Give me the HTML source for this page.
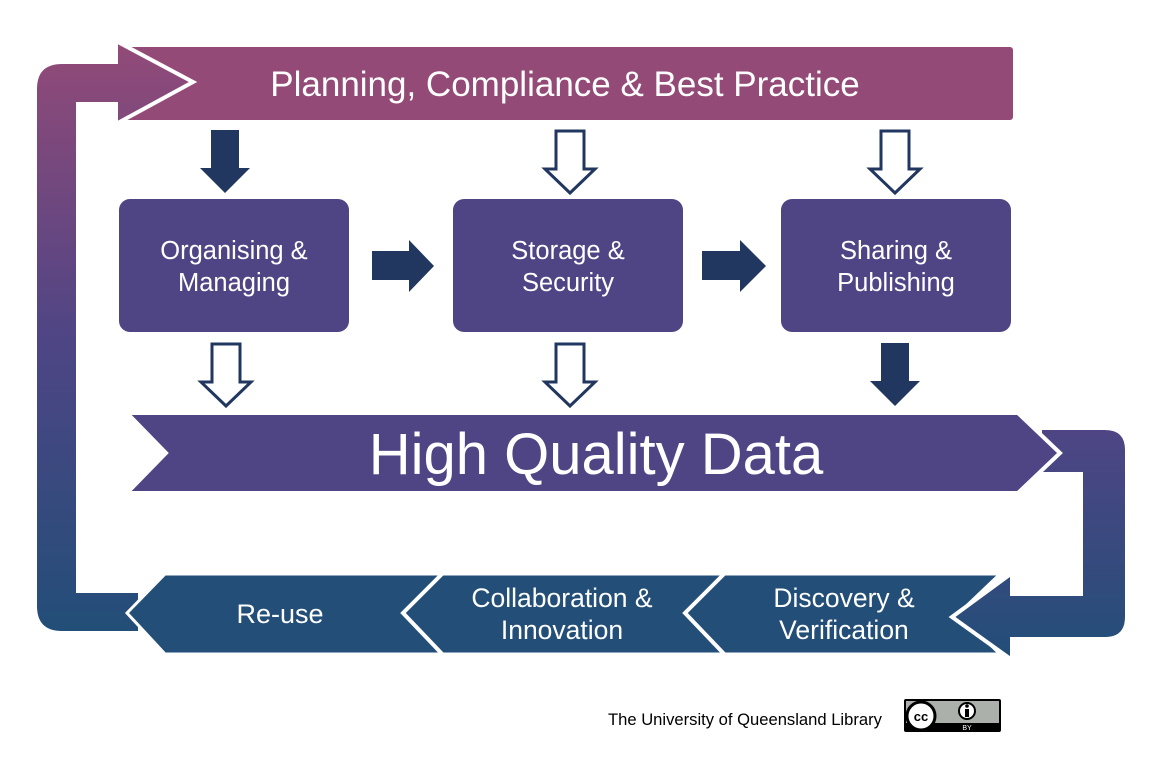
<!DOCTYPE html>
<html><head><meta charset="utf-8"><style>
html,body{margin:0;padding:0;background:#fff;width:1163px;height:769px;overflow:hidden}
svg{display:block}
text{font-family:"Liberation Sans",sans-serif;fill:#fff}
</style></head><body>
<svg width="1163" height="769" viewBox="0 0 1163 769" xmlns="http://www.w3.org/2000/svg">
<defs>
<linearGradient id="gl" x1="0" y1="41" x2="0" y2="633" gradientUnits="userSpaceOnUse">
<stop offset="0" stop-color="#934a78"/><stop offset="0.5" stop-color="#4f4585"/><stop offset="1" stop-color="#224e78"/></linearGradient>
<linearGradient id="gr" x1="0" y1="428" x2="0" y2="660" gradientUnits="userSpaceOnUse">
<stop offset="0" stop-color="#4f4585"/><stop offset="1" stop-color="#224e78"/></linearGradient>
</defs>
<rect x="125" y="47" width="888" height="73" rx="3" fill="#944a77"/>
<path d="M193,82 L116,124 L116,104 L78,104 L78,591 L140,591 L140,633 L62,633 Q35,633 35,606 L35,89 Q35,62 62,62 L116,62 L116,41 Z" fill="url(#gl)" stroke="#fff" stroke-width="4" stroke-linejoin="miter"/>
<text x="565" y="96" font-size="35" text-anchor="middle">Planning, Compliance &amp; Best Practice</text>
<path d="M127,613 L165,574 L1000,574 L958,614 L1000,654 L165,654 Z" fill="#224e78" stroke="#fff" stroke-width="3"/>
<polyline points="445,571 403,613 445,657" fill="none" stroke="#fff" stroke-width="4"/>
<polyline points="727,571 685,613 727,657" fill="none" stroke="#fff" stroke-width="4"/>
<text x="280" y="623" font-size="27" text-anchor="middle">Re-use</text>
<text x="562" y="607" font-size="26.5" text-anchor="middle">Collaboration &amp;</text>
<text x="562" y="639" font-size="26.5" text-anchor="middle">Innovation</text>
<text x="844" y="607" font-size="26.5" text-anchor="middle">Discovery &amp;</text>
<text x="844" y="639" font-size="26.5" text-anchor="middle">Verification</text>
<path d="M1040,428 L1105,428 Q1127,428 1127,450 L1127,617 Q1127,639 1105,639 L1012,639 L1012,660 L952,617 L1012,573 L1012,594 L1081,594 L1081,474 L1040,474 Z" fill="url(#gr)" stroke="#fff" stroke-width="4"/>
<path d="M127,413 L1018,413 L1060,453 L1018,493 L127,493 L166,453 Z" fill="#4f4585" stroke="#fff" stroke-width="4"/>
<text x="596" y="474" font-size="58" text-anchor="middle">High Quality Data</text>
<rect x="119" y="199" width="230" height="133" rx="11" fill="#4f4585"/>
<rect x="453" y="199" width="230" height="133" rx="11" fill="#4f4585"/>
<rect x="781" y="199" width="230" height="133" rx="11" fill="#4f4585"/>
<text x="234" y="259" font-size="25.5" text-anchor="middle">Organising &amp;</text>
<text x="234" y="291" font-size="25.5" text-anchor="middle">Managing</text>
<text x="568" y="259" font-size="25.5" text-anchor="middle">Storage &amp;</text>
<text x="568" y="291" font-size="25.5" text-anchor="middle">Security</text>
<text x="896" y="259" font-size="25.5" text-anchor="middle">Sharing &amp;</text>
<text x="896" y="291" font-size="25.5" text-anchor="middle">Publishing</text>
<path d="M372,251 L409,251 L409,240 L434,266 L409,292 L409,280 L372,280 Z" fill="#21375f"/>
<path d="M702,251 L740,251 L740,240 L766,266 L740,292 L740,280 L702,280 Z" fill="#21375f"/>
<path d="M211,130 L239,130 L239,168 L250,168 L225,193 L200,168 L211,168 Z" fill="#21375f"/>
<path d="M881,343 L909,343 L909,381 L920,381 L895,406 L870,381 L881,381 Z" fill="#21375f"/>
<g fill="#fff" stroke="#21375f" stroke-width="3">
<path d="M556,131 L584,131 L584,169 L595,169 L570,193 L545,169 L556,169 Z"/>
<path d="M556,344 L584,344 L584,382 L595,382 L570,406 L545,382 L556,382 Z"/>
<path d="M212,344 L240,344 L240,382 L251,382 L226,406 L201,382 L212,382 Z"/>
<path d="M881,131 L909,131 L909,169 L920,169 L895,193 L870,169 L881,169 Z"/>
</g>
<text x="608" y="725" font-size="16.6" style="fill:#000">The University of Queensland Library</text>
<rect x="904" y="699" width="97" height="33" rx="2" fill="#000"/>
<rect x="906" y="701" width="93" height="22" fill="#abb1aa"/>
<circle cx="921" cy="716" r="14" fill="#fff" stroke="#000" stroke-width="3"/>
<text x="921" y="721" font-size="13" font-weight="bold" text-anchor="middle" style="fill:#000">cc</text>
<circle cx="967" cy="711" r="8" fill="#fff" stroke="#000" stroke-width="2"/>
<rect x="965" y="709" width="4" height="8" fill="#000"/><circle cx="967" cy="706" r="1.8" fill="#000"/>
<text x="967" y="730" font-size="7" text-anchor="middle">BY</text>
</svg>
</body></html>
